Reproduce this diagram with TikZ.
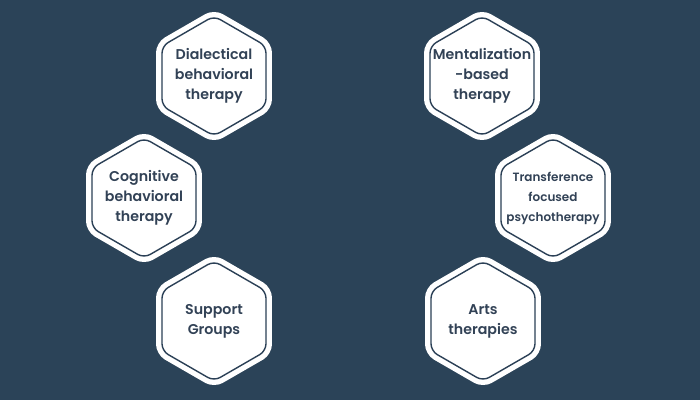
\documentclass[tikz,border=0pt]{standalone}
\usepackage{fontspec}
\setmainfont{Poppins}[BoldFont={Poppins SemiBold}]
\usetikzlibrary{shapes.geometric,positioning}
\definecolor{bgnavy}{RGB}{43,67,88}
\definecolor{hexline}{RGB}{43,64,86}
\definecolor{hexink}{RGB}{50,66,86}

\begin{document}
\begin{tikzpicture}[x=1pt, y=-1pt,
  hexbox/.style={regular polygon, regular polygon sides=6, shape border rotate=90,
    minimum size=120pt, inner sep=0pt, rounded corners=7pt, draw=hexline,
    line width=1.4pt, preaction={draw=white, fill=white, line width=12pt}},
  hextxt/.style={align=center, text=hexink,
    font=\fontsize{14.2}{20}\selectfont\bfseries},
  hexsmall/.style={hextxt, font=\fontsize{12}{20}\selectfont\bfseries}
]
  \fill[bgnavy] (0,0) rectangle (700,400);

  % left column
  \node[hexbox] (dbt) at (214,76)  {};
  \node[hexbox] (cbt) at (144,198) {};
  \node[hexbox] (sup) at (214,321) {};
  % right column
  \node[hexbox] (mbt) at (482,76)  {};
  \node[hexbox] (tfp) at (553,198) {};
  \node[hexbox] (art) at (483,321) {};

  \node[hextxt]   (dbt-t) at (dbt.center) {Dialectical\\behavioral\\therapy};
  \node[hextxt]   (cbt-t) at (cbt.center) {Cognitive\\behavioral\\therapy};
  \node[hextxt]   (sup-t) at (sup.center) {Support\\Groups};
  \node[hextxt]   (mbt-t) at (mbt.center) {Mentalization\\-based\\therapy};
  \node[hexsmall] (tfp-t) at (tfp.center) {Transference\\focused\\psychotherapy};
  \node[hextxt]   (art-t) at (art.center) {Arts\\therapies};
\end{tikzpicture}
\end{document}
